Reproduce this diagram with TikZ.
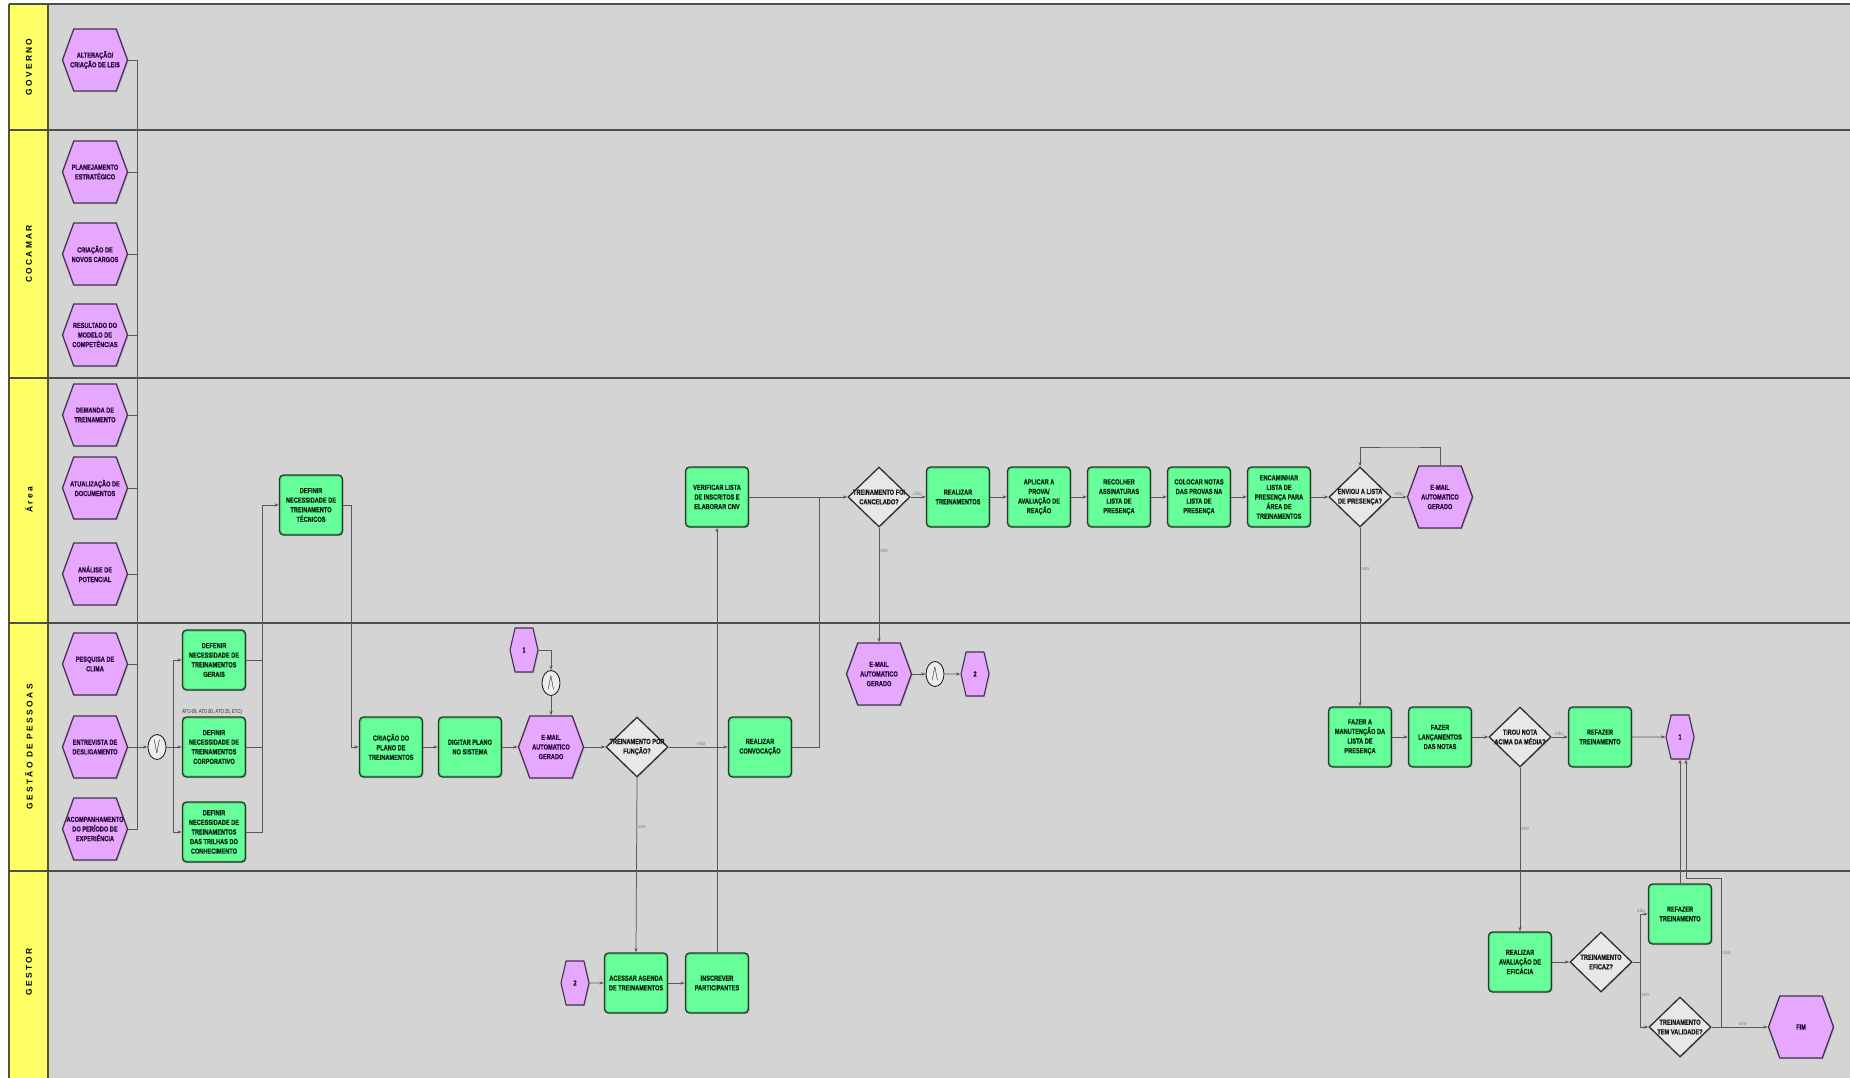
\documentclass[tikz,border=0pt]{standalone}
\usepackage{fontspec}
\setmainfont{Liberation Sans}
\newfontfamily\boxfont{Liberation Sans}[FakeStretch=0.76, BoldFont={Liberation Sans Bold}, BoldFeatures={FakeBold=0.6}]
\newfontfamily\lanefont{Liberation Sans}[LetterSpace=28]
\usetikzlibrary{shapes.geometric,shapes.symbols,arrows.meta,shadows}

\definecolor{lanebg}{RGB}{212,212,212}
\definecolor{lanehead}{RGB}{255,255,102}
\definecolor{headedge}{RGB}{85,85,40}
\definecolor{sepline}{RGB}{78,78,78}
\definecolor{taskfill}{RGB}{102,255,153}
\definecolor{taskglow}{RGB}{60,190,100}
\definecolor{taskedge}{RGB}{38,58,40}
\definecolor{tasktext}{RGB}{8,38,16}
\definecolor{evfill}{RGB}{230,168,255}
\definecolor{evedge}{RGB}{68,50,78}
\definecolor{evtext}{RGB}{40,8,60}
\definecolor{decfill}{RGB}{232,232,232}
\definecolor{flow}{RGB}{88,88,88}

\tikzset{
  boxtext/.style={font=\boxfont\bfseries\fontsize{7.4}{9.6}\selectfont, align=center},
  task/.style={boxtext, draw=taskedge, line width=1.3pt, fill=taskfill, text=tasktext,
    rounded corners=4pt, minimum width=63pt, minimum height=60pt, inner sep=1pt,
    drop shadow={shadow xshift=1.2pt, shadow yshift=-1.2pt, opacity=.3},
    path picture={\draw[line width=3.5pt, draw=taskglow, opacity=.45, rounded corners=4pt]
      (path picture bounding box.south west) rectangle (path picture bounding box.north east);}},
  hexshape/.style={shape=signal, signal to=west and east, signal pointer angle=140,
    draw=evedge, line width=1.3pt, fill=evfill, text=evtext, boxtext,
    minimum width=65pt, minimum height=62pt, inner sep=0pt,
    drop shadow={shadow xshift=1.2pt, shadow yshift=-1.2pt, opacity=.3}},
  evlabel/.style={boxtext, text=evtext, inner sep=0pt},
  event/.style={hexshape, label={[evlabel]center:#1}},
  link/.style={hexshape, signal pointer angle=154, minimum width=28pt, minimum height=44pt,
    line width=1.1pt},
  decision/.style={diamond, draw=black!82, line width=1.3pt, fill=decfill,
    minimum width=62pt, minimum height=60pt, inner sep=0pt,
    drop shadow={shadow xshift=1pt, shadow yshift=-1pt, opacity=.25}},
  dectext/.style={boxtext, text=black!90, inner sep=0pt},
  gate/.style={ellipse, draw=black!85, line width=0.9pt, fill=black!7,
    minimum width=18pt, minimum height=25pt, inner sep=0pt},
  flowline/.style={draw=flow, line width=0.75pt},
  arr/.style={flowline, -{Stealth[length=4.5pt,width=3.2pt]}},
  lbl/.style={font=\fontsize{5}{5}\selectfont, text=black!50, inner sep=1pt},
  lanetitle/.style={font=\lanefont\bfseries\fontsize{8.4}{8.4}\selectfont, rotate=90, text=black},
}

\begin{document}
\begin{tikzpicture}[x=1pt, y=-1pt]
\useasboundingbox (0,0) rectangle (1850,1078);

% swimlane background and headers
\fill[white] (0,0) rectangle (1850,1078);
\fill[lanebg] (48,4) rectangle (1850,1078);
\foreach \ya/\yb in {4/130, 130/378, 378/623, 623/871, 871/1078}{
  \fill[lanehead] (9,\ya) rectangle (48,\yb);
}
\draw[headedge, line width=1.2pt] (9,4) -- (9,1078);
\draw[headedge, line width=1.8pt] (48,4) -- (48,1078);
\draw[sepline, line width=1.3pt] (9,4) -- (1850,4);
\foreach \y in {130,378,623,871}{
  \draw[sepline, line width=2.6pt] (9,\y) -- (1850,\y);
}
\node[lanetitle] (hgov) at (29,67) {GOVERNO};
\node[lanetitle] (hcoc) at (29,254) {COCAMAR};
\node[lanetitle] (hare) at (29,500) {Área};
\node[lanetitle] (hges) at (29,747) {GESTÃO DE PESSOAS};
\node[lanetitle] (hgtr) at (29,972) {GESTOR};

% triggering events
\node[event={ALTERAÇÃO/\\CRIAÇÃO DE LEIS}] (alt) at (95,60) {};
\node[event={PLANEJAMENTO\\ESTRATÉGICO}] (plan) at (95,172) {};
\node[event={CRIAÇÃO DE\\NOVOS CARGOS}] (cargos) at (95,254) {};
\node[event={RESULTADO DO\\MODELO DE\\COMPETÊNCIAS}] (result) at (95,335) {};
\node[event={DEMANDA DE\\TREINAMENTO}] (demanda) at (95,415) {};
\node[event={ATUALIZAÇÃO DE\\DOCUMENTOS}] (atual) at (95,488) {};
\node[event={ANÁLISE DE\\POTENCIAL}] (analise) at (95,574) {};
\node[event={PESQUISA DE\\CLIMA}] (pesq) at (95,664) {};
\node[event={ENTREVISTA DE\\DESLIGAMENTO}] (entrev) at (95,747) {};
\node[event={ACOMPANHAMENTO\\DO PERÍODO DE\\EXPERIÊNCIA}] (acomp) at (95,829) {};

\node[gate] (orgw) at (157,747) {\scalebox{1}[2.3]{$\vee$}};

% needs definition
\node[task] (gerais) at (214,660) {DEFENIR\\NECESSIDADE DE\\TREINAMENTOS\\GERAIS};
\node[task] (corp) at (214,747) {DEFINIR\\NECESSIDADE DE\\TREINAMENTOS\\CORPORATIVO};
\node[task] (trilhas) at (214,832) {DEFINIR\\NECESSIDADE DE\\TREINAMENTOS\\DAS TRILHAS DO\\CONHECIMENTO};
\node[font=\boxfont\fontsize{5.6}{5.6}\selectfont, text=black!85, anchor=south west, inner sep=0pt] (atos) at (182,715) {ATO 69, ATO 80, ATO 25, ETC)};
\node[task] (tecnicos) at (311,505) {DEFINIR\\NECESSIDADE DE\\TREINAMENTO\\TÉCNICOS};

% planning
\node[task] (plano) at (391,747) {CRIAÇÃO DO\\PLANO DE\\TREINAMENTOS};
\node[task] (digitar) at (470,747) {DIGITAR PLANO\\NO SISTEMA};
\node[event={E-MAIL\\AUTOMATICO\\GERADO}] (email1) at (551,747) {};
\node[link] (con1) at (524,650) {1};
\node[gate] (and1) at (551,683) {\scalebox{1}[2.3]{$\wedge$}};
\node[decision] (funcao) at (637,747) {};
\node[dectext] at (funcao) {TREINAMENTO POR\\FUNÇÃO?};
\node[task] (convoc) at (760,747) {REALIZAR\\CONVOCAÇÃO};

% manager lane
\node[link] (con2) at (575,983) {2};
\node[task] (agenda) at (636,983) {ACESSAR AGENDA\\DE TREINAMENTOS};
\node[task] (inscrever) at (717,983) {INSCREVER\\PARTICIPANTES};

% training execution
\node[task] (verificar) at (717,497) {VERIFICAR LISTA\\DE INSCRITOS E\\ELABORAR CNV};
\node[decision] (cancel) at (879,497) {};
\node[dectext] at (cancel) {TREINAMENTO FOI\\CANCELADO?};
\node[event={E-MAIL\\AUTOMATICO\\GERADO}] (email2) at (879,674) {};
\node[gate] (and2) at (935,674) {\scalebox{1}[2.3]{$\wedge$}};
\node[link] (con3) at (975,674) {2};
\node[task] (realizar) at (958,497) {REALIZAR\\TREINAMENTOS};
\node[task] (aplicar) at (1039,497) {APLICAR A\\PROVA/\\AVALIAÇÃO DE\\REAÇÃO};
\node[task] (recolher) at (1119,497) {RECOLHER\\ASSINATURAS\\LISTA DE\\PRESENÇA};
\node[task] (colocar) at (1199,497) {COLOCAR NOTAS\\DAS PROVAS NA\\LISTA DE\\PRESENÇA};
\node[task] (encaminhar) at (1279,497) {ENCAMINHAR\\LISTA DE\\PRESENÇA PARA\\ÁREA DE\\TREINAMENTOS};
\node[decision] (enviou) at (1360,497) {};
\node[dectext] at (enviou) {ENVIOU A LISTA\\DE PRESENÇA?};
\node[event={E-MAIL\\AUTOMATICO\\GERADO}] (email3) at (1440,497) {};

% grading and effectiveness
\node[task] (manut) at (1360,737) {FAZER A\\MANUTENÇÃO DA\\LISTA DE\\PRESENÇA};
\node[task] (lanc) at (1440,737) {FAZER\\LANÇAMENTOS\\DAS NOTAS};
\node[decision] (tirou) at (1520,737) {};
\node[dectext] at (tirou) {TIROU NOTA\\ACIMA DA MÉDIA?};
\node[task] (refazer1) at (1600,737) {REFAZER\\TREINAMENTO};
\node[link] (con4) at (1680,737) {1};
\node[task] (avalia) at (1520,962) {REALIZAR\\AVALIAÇÃO DE\\EFICÁCIA};
\node[decision] (eficaz) at (1601,962) {};
\node[dectext] at (eficaz) {TREINAMENTO\\EFICAZ?};
\node[task] (refazer2) at (1680,914) {REFAZER\\TREINAMENTO};
\node[decision] (validade) at (1680,1027) {};
\node[dectext] at (validade) {TREINAMENTO\\TEM VALIDADE?};
\node[event={FIM}] (fim) at (1801,1027) {};

% routing points
\coordinate (bus) at (137,747);
\coordinate (split) at (173,747);
\coordinate (colA) at (262,505);
\coordinate (tecout) at (351,505);
\coordinate (join) at (819,497);
\coordinate (loop) at (1400,447);
\coordinate (efsplit) at (1640,962);
\coordinate (valturn) at (1721,1027);
\coordinate (valtop) at (1686,878);

% connectors: triggers into the OR gateway
\foreach \h in {alt,plan,cargos,result,demanda,atual,analise,pesq,acomp}{
  \draw[flowline] (\h.east) -| (bus);
}
\draw[arr] (entrev.east) -- (orgw.west);
\draw[flowline] (orgw.east) -- (split);
\draw[arr] (split) |- (gerais.west);
\draw[arr] (split) -- (corp.west);
\draw[arr] (split) |- (trilhas.west);
\draw[flowline] (gerais.east) -| (colA);
\draw[flowline] (corp.east) -| (colA);
\draw[arr] (trilhas.east) -| (colA) -- (tecnicos.west);
\draw[arr] (tecnicos.east) -- (tecout) |- (plano.west);

% planning chain
\draw[arr] (plano) -- (digitar);
\draw[arr] (digitar) -- (email1);
\draw[arr] (con1.east) -| (and1.north);
\draw[arr] (and1.south) -- (email1.north);
\draw[arr] (email1) -- (funcao);
\draw[arr] (funcao) -- node[lbl, above, pos=.55] {não} (convoc);
\draw[arr] (funcao.south) -- node[lbl, right, pos=.28] {sim} (agenda.north);
\draw[arr] (con2) -- (agenda);
\draw[arr] (agenda) -- (inscrever);
\draw[arr] (inscrever.north) -- (inscrever.north |- verificar.south);
\draw[flowline] (convoc.east) -| (join);
\draw[arr] (verificar.east) -- (cancel.west);

% execution chain
\draw[arr] (cancel) -- node[lbl, above, pos=.45] {não} (realizar);
\draw[arr] (cancel.south) -- node[lbl, right, pos=.2] {sim} (email2.north);
\draw[arr] (email2) -- (and2);
\draw[arr] (and2) -- (con3);
\draw[arr] (realizar) -- (aplicar);
\draw[arr] (aplicar) -- (recolher);
\draw[arr] (recolher) -- (colocar);
\draw[arr] (colocar) -- (encaminhar);
\draw[arr] (encaminhar) -- (enviou);
\draw[arr] (enviou) -- node[lbl, above, pos=.45] {não} (email3);
\draw[arr] (email3.north) |- (loop) -| (enviou.north);
\draw[arr] (enviou.south) -- node[lbl, right, pos=.23] {sim} (manut.north);

% grading chain
\draw[arr] (manut) -- (lanc);
\draw[arr] (lanc) -- (tirou);
\draw[arr] (tirou) -- node[lbl, above, pos=.45] {não} (refazer1);
\draw[arr] (refazer1) -- (con4);
\draw[arr] (tirou.south) -- node[lbl, right, pos=.37] {sim} (avalia.north);
\draw[arr] (avalia) -- (eficaz);
\draw[flowline] (eficaz.east) -- (efsplit);
\draw[arr] (efsplit) |- node[lbl, above left, pos=.92] {não} (refazer2.west);
\draw[arr] (efsplit) |- node[lbl, right, pos=.25] {sim} (validade.west);
\draw[arr] (refazer2.north) -- (refazer2.north |- con4.south);
\draw[arr] (validade) -- node[lbl, above, pos=.55] {sim} (fim);
\draw[arr] (valturn) |- node[lbl, right, pos=.25] {não} (valtop) -- (valtop |- con4.south);

\end{tikzpicture}
\end{document}
